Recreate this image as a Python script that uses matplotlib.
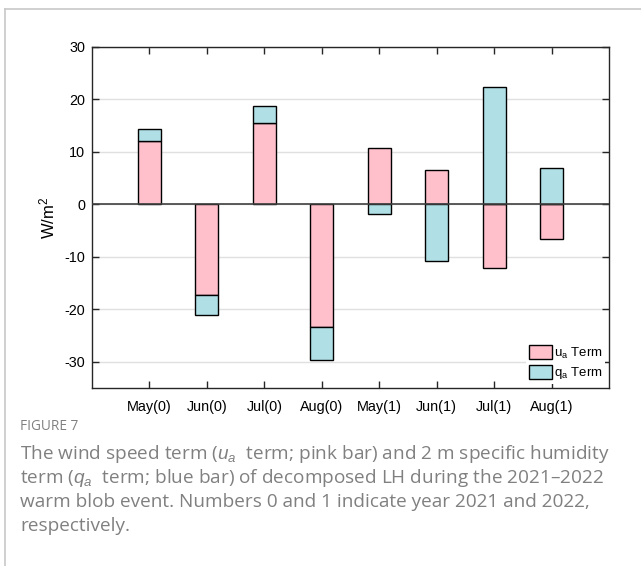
import numpy as np
import matplotlib
matplotlib.use("Agg")
import matplotlib.pyplot as plt
from matplotlib.patches import Patch
from matplotlib.lines import Line2D

# Monthly terms of the decomposed latent heat flux (W/m^2)
months = ["May(0)", "Jun(0)", "Jul(0)", "Aug(0)", "May(1)", "Jun(1)", "Jul(1)", "Aug(1)"]
ua_term = [12.1, -17.25, 15.5, -23.4, 10.8, 6.5, -12.2, -6.6]
qa_term = [2.3, -3.75, 3.3, -6.3, -1.9, -10.8, 22.3, 7.0]

plt.rcParams["font.family"] = ["Liberation Sans", "DejaVu Sans"]
plt.rcParams["mathtext.fontset"] = "custom"
plt.rcParams["mathtext.rm"] = "Liberation Sans"
plt.rcParams["mathtext.it"] = "Liberation Sans:italic"

PINK = "#ffc0cb"
BLUE = "#b0e0e6"
AXC = "#262626"

fig = plt.figure(figsize=(6.41, 5.66), dpi=100)

# card border (left and top edges)
fig.add_artist(Line2D([4.5 / 641, 4.5 / 641], [0, 1 - 9 / 566], transform=fig.transFigure,
                      color="#c8c8c8", lw=1.2))
fig.add_artist(Line2D([4.5 / 641, 1], [1 - 9 / 566, 1 - 9 / 566], transform=fig.transFigure,
                      color="#c8c8c8", lw=1.2))

ax = fig.add_axes([92 / 641, 1 - 388 / 566, 517 / 641, 341 / 566])

x = np.arange(1, len(months) + 1)
ua = np.array(ua_term)
qa = np.array(qa_term)
# stack positives on positives and negatives on negatives
qa_bottom = np.where(np.sign(qa) == np.sign(ua), ua, 0.0)

ax.bar(x, ua, width=0.4, color=PINK, edgecolor="black", linewidth=1.0, zorder=3)
ax.bar(x, qa, width=0.4, bottom=qa_bottom, color=BLUE, edgecolor="black", linewidth=1.0, zorder=3)

ax.axhline(0, color="#404040", lw=1.2, zorder=4)

ax.set_xlim(0, 9)
ax.set_ylim(-35, 30)
ax.set_xticks(x)
ax.set_xticklabels(months)
ax.set_yticks([-30, -20, -10, 0, 10, 20, 30])
ax.set_yticklabels(["-30", "-20", "-10", "0", "10", "20", "30"])
ax.yaxis.grid(True, color="#e0e0e0", lw=1.0, zorder=0)
ax.set_axisbelow(True)

for s in ax.spines.values():
    s.set_color(AXC)
    s.set_linewidth(1.0)
ax.tick_params(axis="both", direction="in", length=5, width=1.0, color=AXC,
               labelsize=10.4, labelcolor="black", top=True, right=True, pad=5)
ax.tick_params(axis="x", pad=9)
ax.set_ylabel("W/m$^2$", fontsize=12, labelpad=5)

handles = [Patch(facecolor=PINK, edgecolor="black", lw=1.0),
           Patch(facecolor=BLUE, edgecolor="black", lw=1.0)]
leg = ax.legend(handles, ["u$_\\mathregular{a}$ Term", "q$_\\mathregular{a}$ Term"],
                loc="lower right", frameon=True, fontsize=9.5, handlelength=1.75,
                handleheight=1.2, handletextpad=0.15, borderaxespad=0.3,
                labelspacing=0.35, borderpad=0.2, fancybox=False)
leg.get_frame().set_edgecolor("none")
leg.get_frame().set_facecolor("white")
leg.get_frame().set_alpha(1)
leg.set_zorder(5)

# caption
CAP = "#808080"
fig.text(20 / 641, 1 - 427 / 566, "FIGURE 7", fontsize=9.8, color=CAP,
         family=["Open Sans", "DejaVu Sans"], va="center", ha="left")
lines = [
    "The wind speed term ($u_a$  term; pink bar) and 2 m specific humidity",
    "term ($q_a$  term; blue bar) of decomposed LH during the 2021\u20132022",
    "warm blob event. Numbers 0 and 1 indicate year 2021 and 2022,",
    "respectively.",
]
for i, ln in enumerate(lines):
    fig.text(20 / 641, 1 - (454 + 24 * i) / 566, ln, fontsize=13.7, color=CAP,
             family=["Open Sans", "DejaVu Sans"], va="center", ha="left")

fig.savefig("out.png", dpi=100, facecolor="white")
